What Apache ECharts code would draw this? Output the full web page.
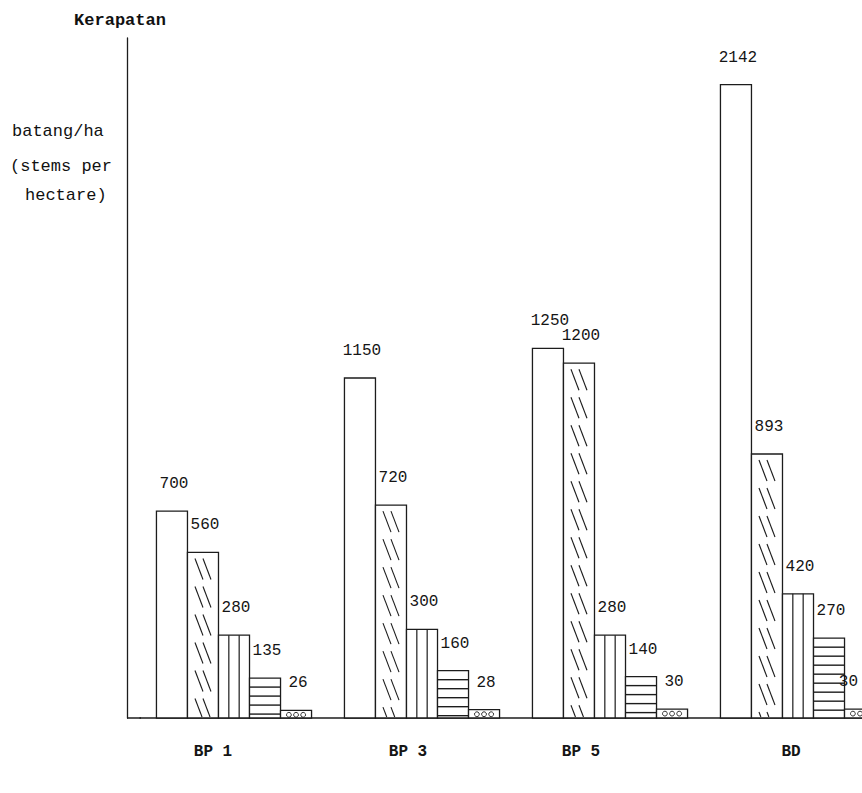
<!DOCTYPE html>
<html>
<head>
<meta charset="utf-8">
<script src="https://cdn.jsdelivr.net/npm/echarts@6/dist/echarts.min.js"></script>
<style>
  html, body { margin: 0; padding: 0; background: #fff; }
  #chart { width: 862px; height: 793px; }
</style>
</head>
<body>
<div id="chart"></div>
<script>
// Stand density (stems per hectare) per plot
const categories = ['BP 1', 'BP 3', 'BP 5', 'BD'];
const classA = [700, 1150, 1250, 2142];   // open bars
const classB = [560, 720, 1200, 893];     // backslash hatch
const classC = [280, 300, 280, 420];      // vertical lines
const classD = [135, 160, 140, 270];      // horizontal lines
const classE = [26, 28, 30, 30];          // small circles

const INK = '#1c1c1c';
const FONT = '"Liberation Mono", "DejaVu Sans Mono", monospace';
const CHART_W = 862;
const GRID_LEFT = 140;
const GRID_TOP = 38;
const GRID_BOTTOM = 75;
const GRID_WIDTH = 752;      // four bands of 188 px; the last runs past the right edge
const AXIS_OFFSET = 13;
const BAR_FRAC = 0.165;
const VALUE_FONT_PX = 16;

function line(x1, y1, x2, y2, w) {
  return { type: 'line', shape: { x1: x1, y1: y1, x2: x2, y2: y2 },
           style: { stroke: INK, lineWidth: w || 1.2 }, silent: true };
}

function patternHatch(x0, y0, bw, base) {
  const out = [];
  const cx = x0 + bw / 2;
  const dx = 8, len = 21, step = 28;
  for (let y = y0 + 6; y < base - 2; y += step) {
    const yEnd = Math.min(y + len, base - 1);
    const frac = (yEnd - y) / len;
    out.push(line(cx - dx, y, cx - dx + dx * frac, yEnd, 1.1));
    out.push(line(cx, y, cx + dx * frac, yEnd, 1.1));
  }
  return out;
}

function patternVertical(x0, y0, bw, base) {
  return [line(x0 + bw / 3, y0, x0 + bw / 3, base), line(x0 + 2 * bw / 3, y0, x0 + 2 * bw / 3, base)];
}

function patternHorizontal(x0, y0, bw, base) {
  const out = [];
  for (let y = y0 + 9; y < base - 2; y += 9) out.push(line(x0, y, x0 + bw, y, 1.4));
  return out;
}

function patternCircles(x0, y0, bw, base) {
  const out = [];
  for (let y = y0 + 4.5; y < base - 2; y += 8) {
    [0.27, 0.5, 0.73].forEach(function (f) {
      out.push({ type: 'circle', shape: { cx: x0 + bw * f, cy: y, r: 2.4 },
                 style: { fill: 'none', stroke: INK, lineWidth: 0.9 }, silent: true });
    });
  }
  return out;
}

function makeRender(slot, pattern) {
  return function (params, api) {
    const cat = api.value(0), v = api.value(1);
    const top = api.coord([cat, v]);
    const base = api.coord([cat, 0])[1];
    const band = api.size([1, 0])[0];
    const bw = band * BAR_FRAC;
    const x0 = top[0] - 2.5 * bw + slot * bw;
    const y0 = top[1];
    const children = [{
      type: 'rect', shape: { x: x0, y: y0, width: bw, height: base - y0 },
      style: { fill: '#fff', stroke: INK, lineWidth: 1.3 }
    }];
    if (pattern) Array.prototype.push.apply(children, pattern(x0, y0, bw, base));
    // value label above the bar, kept inside the canvas near the right edge
    const text = String(v);
    const halfW = text.length * VALUE_FONT_PX * 0.6 / 2;
    const lx = Math.min(x0 + bw / 2 + 2, CHART_W - halfW - 4);
    children.push({
      type: 'text',
      style: { text: text, x: lx, y: y0 - 27, align: 'center',
               verticalAlign: 'middle', font: VALUE_FONT_PX + 'px ' + FONT, fill: '#151515' }
    });
    return { type: 'group', children: children };
  };
}

function seriesData(values) {
  return values.map(function (v, i) { return [i, v]; });
}

const chart = echarts.init(document.getElementById('chart'), null, { renderer: 'svg' });

const labelShift = { 'BP 1': 'a', 'BP 3': 'b', 'BP 5': 'c', 'BD': 'd' };
const catLabel = { fontFamily: FONT, fontSize: 16, fontWeight: 'bold', color: '#151515' };

chart.setOption({
  backgroundColor: '#ffffff',
  animation: false,
  grid: { left: GRID_LEFT, top: GRID_TOP, width: GRID_WIDTH, bottom: GRID_BOTTOM,
          containLabel: false, outerBoundsMode: 'none' },
  xAxis: {
    type: 'category',
    data: categories,
    axisLine: { lineStyle: { color: INK, width: 1.5 } },
    axisTick: { show: false },
    axisLabel: {
      margin: 26,
      color: '#151515',
      fontFamily: FONT,
      fontSize: 16,
      fontWeight: 'bold',
      formatter: function (v) { return '{' + labelShift[v] + '|' + v + '}'; },
      rich: {
        a: Object.assign({ padding: [0, 42, 0, 0] }, catLabel),
        b: Object.assign({ padding: [0, 28, 0, 0] }, catLabel),
        c: Object.assign({ padding: [0, 58, 0, 0] }, catLabel),
        d: Object.assign({ padding: [0, 14, 0, 0] }, catLabel)
      }
    },
    splitLine: { show: false }
  },
  yAxis: {
    type: 'value',
    min: 0,
    max: 2300,
    offset: AXIS_OFFSET,
    name: 'Kerapatan',
    nameLocation: 'end',
    nameGap: 9,
    nameTextStyle: { fontFamily: FONT, fontSize: 17, fontWeight: 'bold', color: '#111',
                     align: 'center', padding: [0, 14, 0, 0] },
    axisLine: { show: true, lineStyle: { color: INK, width: 1.3 } },
    axisTick: { show: false },
    axisLabel: { show: false },
    splitLine: { show: false }
  },
  graphic: [
    { type: 'line', shape: { x1: GRID_LEFT - AXIS_OFFSET, y1: 793 - GRID_BOTTOM, x2: GRID_LEFT + 1, y2: 793 - GRID_BOTTOM },
      style: { stroke: INK, lineWidth: 1.5 }, silent: true },
    { type: 'text', left: 12, top: 123, style: { text: 'batang/ha', font: '17px ' + FONT, fill: '#111' } },
    { type: 'text', left: 10, top: 158, style: { text: '(stems per', font: '17px ' + FONT, fill: '#111' } },
    { type: 'text', left: 25, top: 187, style: { text: 'hectare)', font: '17px ' + FONT, fill: '#111' } }
  ],
  series: [
    { type: 'custom', name: 'A', renderItem: makeRender(0, null), data: seriesData(classA), encode: { x: 0, y: 1 } },
    { type: 'custom', name: 'B', renderItem: makeRender(1, patternHatch), data: seriesData(classB), encode: { x: 0, y: 1 } },
    { type: 'custom', name: 'C', renderItem: makeRender(2, patternVertical), data: seriesData(classC), encode: { x: 0, y: 1 } },
    { type: 'custom', name: 'D', renderItem: makeRender(3, patternHorizontal), data: seriesData(classD), encode: { x: 0, y: 1 } },
    { type: 'custom', name: 'E', renderItem: makeRender(4, patternCircles), data: seriesData(classE), encode: { x: 0, y: 1 } }
  ]
});
</script>
</body>
</html>
